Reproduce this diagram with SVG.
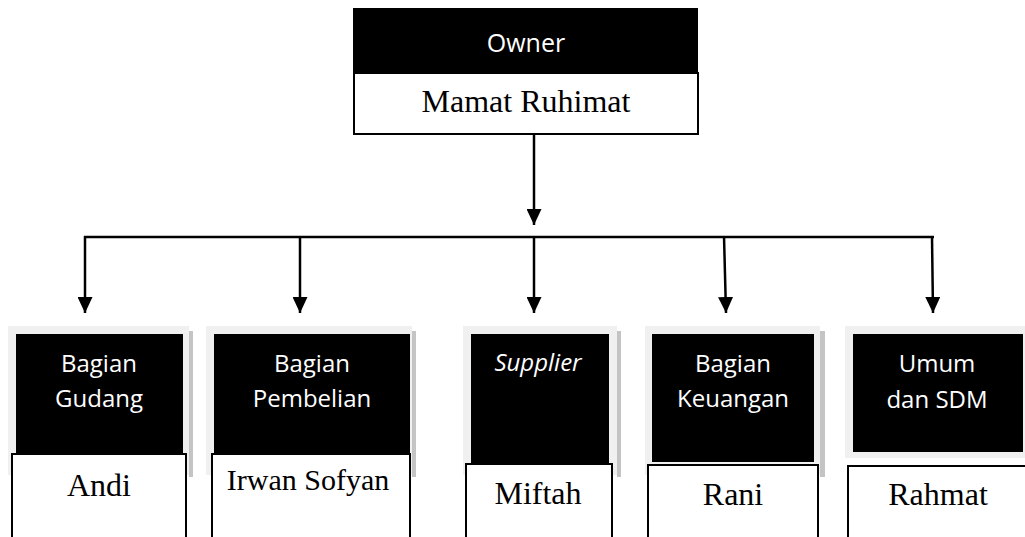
<svg xmlns="http://www.w3.org/2000/svg" width="1025" height="537" viewBox="0 0 1025 537">
<style>
.bg{fill:#f0f0f0}
.sh{fill:#c4c4c4}
.blk{fill:#000}
.wb{fill:#fff;stroke:#000;stroke-width:2}
.lbl{font-family:"Open Sans","Noto Sans",sans-serif;font-size:24px;fill:#fff;text-anchor:middle}
.nm{font-family:"Liberation Serif","Times New Roman",serif;font-size:32px;fill:#000;text-anchor:middle}
.ln{stroke:#000;stroke-width:2.5;fill:none}
</style>
<defs>
<marker id="ah" markerUnits="userSpaceOnUse" viewBox="0 0 16 15" refX="16" refY="7.5" markerWidth="16" markerHeight="15" orient="auto">
<path d="M0,0 L16,7.5 L0,15 z" fill="#000"/>
</marker>
</defs>
<g id="owner">
<rect x="353" y="8" width="345" height="66" class="blk"/>
<rect x="354" y="73" width="344" height="61" class="wb"/>
<text x="526" y="52" class="lbl" style="font-size:25px">Owner</text>
<text x="526" y="112" class="nm">Mamat Ruhimat</text>
</g>
<g id="connectors">
<line x1="534" y1="134" x2="534" y2="225" class="ln" marker-end="url(#ah)"/>
<line x1="84" y1="237" x2="934" y2="237" class="ln"/>
<line x1="85" y1="236" x2="85" y2="313" class="ln" marker-end="url(#ah)"/>
<line x1="300" y1="236" x2="300" y2="313" class="ln" marker-end="url(#ah)"/>
<line x1="534" y1="236" x2="534" y2="313" class="ln" marker-end="url(#ah)"/>
<line x1="724" y1="236" x2="726" y2="313" class="ln" marker-end="url(#ah)"/>
<line x1="932" y1="236" x2="933" y2="313" class="ln" marker-end="url(#ah)"/>
</g>
<g id="gudang">
<rect x="8" y="326" width="181" height="149" class="bg"/>
<rect x="189" y="331" width="4" height="146" class="sh"/>
<rect x="16" y="334" width="167" height="120" class="blk"/>
<text x="99" y="372" class="lbl">Bagian</text>
<text x="99" y="407" class="lbl">Gudang</text>
<rect x="12" y="454" width="174" height="110" class="wb"/>
<text x="99" y="496" class="nm">Andi</text>
</g>
<g id="pembelian">
<rect x="206" y="326" width="206" height="149" class="bg"/>
<rect x="412" y="331" width="4" height="146" class="sh"/>
<rect x="214" y="334" width="196" height="120" class="blk"/>
<text x="312" y="372" class="lbl">Bagian</text>
<text x="312" y="407" class="lbl">Pembelian</text>
<rect x="212" y="454" width="198" height="110" class="wb"/>
<text x="308" y="490" class="nm" style="font-size:30px">Irwan Sofyan</text>
</g>
<g id="supplier">
<rect x="463" y="326" width="154" height="149" class="bg"/>
<rect x="617" y="331" width="4" height="146" class="sh"/>
<rect x="471" y="334" width="138" height="129" class="blk"/>
<text x="538" y="371" class="lbl" font-style="italic">Supplier</text>
<rect x="466" y="464" width="146" height="100" class="wb"/>
<text x="538" y="504" class="nm">Miftah</text>
</g>
<g id="keuangan">
<rect x="645" y="326" width="175" height="149" class="bg"/>
<rect x="820" y="331" width="5" height="146" class="sh"/>
<rect x="652" y="334" width="162" height="128" class="blk"/>
<text x="733" y="372" class="lbl">Bagian</text>
<text x="733" y="407" class="lbl">Keuangan</text>
<rect x="648" y="465" width="170" height="100" class="wb"/>
<text x="733" y="505" class="nm">Rani</text>
</g>
<g id="sdm">
<rect x="845" y="326" width="180" height="132" class="bg"/>
<rect x="853" y="334" width="170" height="118" class="blk"/>
<text x="937" y="372" class="lbl">Umum</text>
<text x="937" y="408" class="lbl">dan SDM</text>
<rect x="848" y="466" width="182" height="100" class="wb"/>
<text x="938" y="505" class="nm">Rahmat</text>
</g>
</svg>
